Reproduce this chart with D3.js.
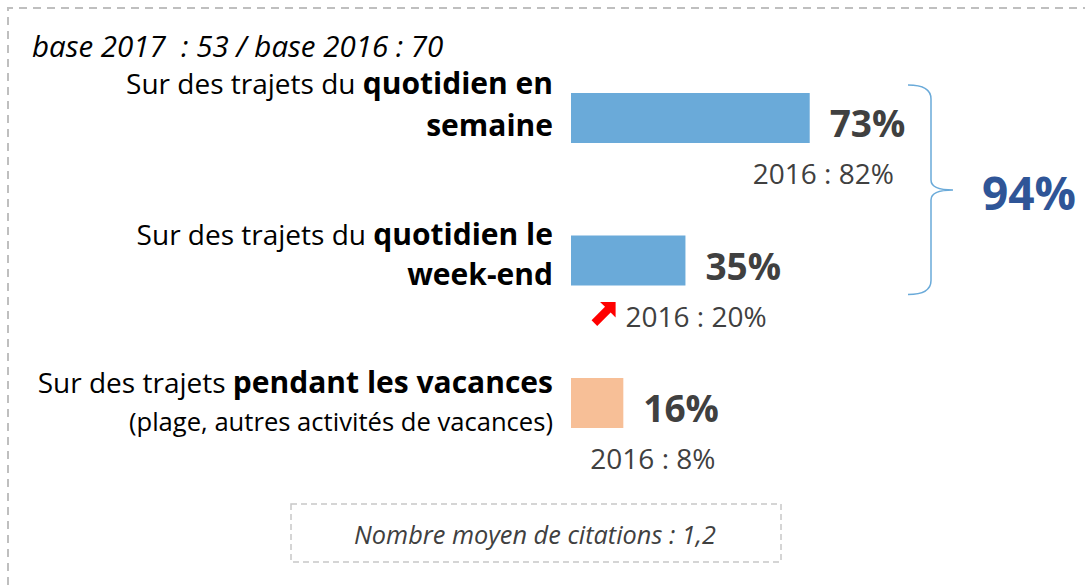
<!DOCTYPE html>
<html>
<head>
<meta charset="utf-8">
<script src="https://cdn.jsdelivr.net/npm/d3@7"></script>
<style>
  body { margin: 0; background: #fff; }
  svg text { font-family: "Open Sans", "Liberation Sans", sans-serif; }
</style>
</head>
<body>
<svg id="chart" width="1085" height="585"></svg>
<script>
// data
var categories = ['semaine', 'weekend', 'vacances'];
var labelRegular = ['Sur des trajets du ', 'Sur des trajets du ', 'Sur des trajets '];
var labelBold = ['quotidien en', 'quotidien le', 'pendant les vacances'];
var labelLine2 = ['semaine', 'week-end', '(plage, autres activités de vacances)'];
var line2Bold = [true, true, false];
var values2017 = [73, 35, 16];
var values2016 = [82, 20, 8];
var rising = [false, true, false];
var barColors = ['#6aaad9', '#6aaad9', '#f7bf97'];
var totalQuotidien = 94;
var baseNote = 'base 2017  : 53 / base 2016 : 70';
var avgNote = 'Nombre moyen de citations : 1,2';

// layout tweaks per row (label baselines, 2016 note offset)
var line1Dy = [1, 9, 15];
var line2Dy = [43, 49, 53];
var noteDx = [-57, -60, -33];

var svg = d3.select('#chart');

var x = d3.scaleLinear().domain([0, 100]).range([571, 898]);
var y = d3.scalePoint().domain(categories).range([93, 378]);
var barH = 50;

// outer dashed frame (top and left edges visible)
svg.append('path')
    .attr('d', 'M8,585 L8,8 L1085,8')
    .attr('fill', 'none')
    .attr('stroke', '#bfbfbf')
    .attr('stroke-width', 2)
    .attr('stroke-dasharray', '8,6');

svg.append('text')
    .attr('x', 32).attr('y', 57)
    .attr('font-size', 29.5).attr('font-style', 'italic')
    .attr('fill', '#000')
    .attr('xml:space', 'preserve')
    .style('white-space', 'pre')
    .text(baseNote);

var rows = svg.selectAll('g.row').data(categories).enter()
    .append('g').attr('class', 'row');

rows.append('rect')
    .attr('x', x(0))
    .attr('y', function(d) { return y(d); })
    .attr('width', function(d, i) { return x(values2017[i]) - x(0); })
    .attr('height', barH)
    .attr('fill', function(d, i) { return barColors[i]; });

// category labels, right aligned against the bars
var l1 = rows.append('text')
    .attr('x', 553)
    .attr('y', function(d, i) { return y(d) + line1Dy[i]; })
    .attr('text-anchor', 'end')
    .attr('fill', '#000');
l1.append('tspan').attr('font-size', 28).text(function(d, i) { return labelRegular[i]; });
l1.append('tspan').attr('font-size', 30).attr('font-weight', 'bold').text(function(d, i) { return labelBold[i]; });

rows.append('text')
    .attr('x', 553)
    .attr('y', function(d, i) { return y(d) + line2Dy[i]; })
    .attr('text-anchor', 'end')
    .attr('fill', '#000')
    .attr('font-size', function(d, i) { return line2Bold[i] ? 30 : 25.6; })
    .attr('font-weight', function(d, i) { return line2Bold[i] ? 'bold' : 'normal'; })
    .text(function(d, i) { return labelLine2[i]; });

// 2017 value
rows.append('text')
    .attr('x', function(d, i) { return x(values2017[i]) + 20; })
    .attr('y', function(d) { return y(d) + 44; })
    .attr('font-size', 37).attr('font-weight', 'bold')
    .attr('fill', '#404040')
    .text(function(d, i) { return values2017[i] + '%'; });

// 2016 reminder under each bar
rows.append('text')
    .attr('x', function(d, i) { return x(values2017[i]) + noteDx[i]; })
    .attr('y', function(d) { return y(d) + 91; })
    .attr('font-size', 28)
    .attr('fill', '#404040')
    .text(function(d, i) { return '2016 : ' + values2016[i] + '%'; });

// red arrow where the rise is significant
rows.filter(function(d, i) { return rising[i]; })
    .append('path')
    .attr('transform', function(d) { return 'translate(605,' + (y(d) + 77) + ') rotate(45)'; })
    .attr('d', 'M-4,15 L-4,-4 L-11,-4 L0,-15 L11,-4 L4,-4 L4,15 Z')
    .attr('fill', '#ff0000');

// brace grouping the two "quotidien" rows
var bTop = y('semaine') - 8, bBot = y('weekend') + barH + 9;
var bMid = 190, bx = 931;
svg.append('path')
    .attr('d', 'M908,' + bTop + ' Q' + bx + ',' + bTop + ' ' + bx + ',' + (bTop + 14) +
        ' L' + bx + ',' + (bMid - 10) + ' Q' + bx + ',' + bMid + ' 953,' + bMid +
        ' Q' + bx + ',' + bMid + ' ' + bx + ',' + (bMid + 10) +
        ' L' + bx + ',' + (bBot - 14) + ' Q' + bx + ',' + bBot + ' 908,' + bBot)
    .attr('fill', 'none')
    .attr('stroke', '#6aaad9')
    .attr('stroke-width', 1.5);

svg.append('text')
    .attr('x', 1029).attr('y', 210)
    .attr('text-anchor', 'middle')
    .attr('font-size', 46).attr('font-weight', 'bold')
    .attr('fill', '#2f5597')
    .text(totalQuotidien + '%');

// bottom note box
svg.append('rect')
    .attr('x', 291).attr('y', 504).attr('width', 490).attr('height', 58)
    .attr('fill', 'none')
    .attr('stroke', '#c8c8c8')
    .attr('stroke-width', 1.5)
    .attr('stroke-dasharray', '6,4');

svg.append('text')
    .attr('x', 535).attr('y', 544)
    .attr('text-anchor', 'middle')
    .attr('font-size', 25.3).attr('font-style', 'italic')
    .attr('fill', '#404040')
    .text(avgNote);
</script>
</body>
</html>
